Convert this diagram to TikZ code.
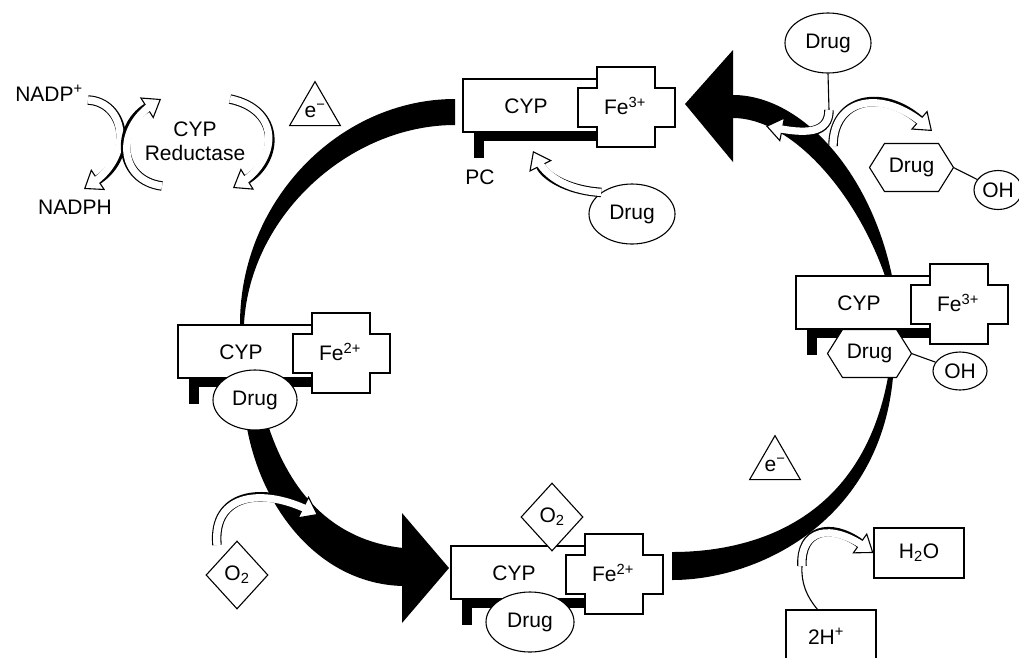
\documentclass[tikz,border=0pt]{standalone}
\usepackage{fontspec}
\setmainfont{Liberation Sans}
\usetikzlibrary{arrows.meta,shapes.geometric}
\newcommand\hollowarrow[1]{%
  \draw[line width=9.5pt,-{Triangle[fill=white,width=25pt,length=17pt,line width=1.1pt]}] #1;
  \draw[line width=7.3pt,white,shorten >=8pt] #1;}
\tikzset{
  cyp/.pic={
    \fill (11,53) rectangle (134,62);
    \fill (11,53) rectangle (21,79);
    \draw[fill=white] (0,0) rectangle (134,53);
    \draw[fill=white] (134,-12) -- (192,-12) -- (192,9) -- (212,9) -- (212,48) -- (192,48)
      -- (192,68) -- (134,68) -- (134,48) -- (115,48) -- (115,9) -- (134,9) -- cycle;
    \node (-cyp) at (63,27) {CYP};
    \node (-fe) at (162,27) {#1};
  },
  hexa/.pic={
    \draw[fill=white] (-42,0) -- (-27,-24) -- (27,-24) -- (42,0) -- (27,24) -- (-27,24) -- cycle;
    \coordinate (-e) at (42,0);
    \node (-t) at (0,0) {Drug};
  }
}
\begin{document}
\begin{tikzpicture}[x=1pt,y=-1pt,line width=1.1pt,font=\fontsize{21}{24}\selectfont,
  every node/.style={inner sep=0pt},
  drug/.style={ellipse,draw,fill=white,minimum width=86pt,minimum height=60pt},
  oh/.style={ellipse,draw,fill=white,minimum width=48pt,minimum height=39pt},
  oxy/.style={diamond,draw,fill=white,minimum width=62pt,minimum height=68pt},
  elec/.style={regular polygon,regular polygon sides=3,draw,fill=white,minimum size=56pt},
  wbox/.style={draw,fill=white,minimum width=90pt,minimum height=50pt}]
\useasboundingbox (0,0) rectangle (1019,657);

% ---- black cycle bands and arrowheads
\fill (240,324) .. controls (240,200) and (340,99) .. (455,99) -- (455,125)
  .. controls (350,125) and (250,215) .. (244,324) -- cycle;
\fill (733,95) .. controls (800,95) and (870,170) .. (892,276) -- (885,276)
  .. controls (855,190) and (790,118) .. (733,118) -- cycle;
\fill (685,104) -- (733,50) -- (733,162) -- cycle;
\fill (247,428) .. controls (262,510) and (320,584) .. (403,586) -- (403,548)
  .. controls (330,540) and (290,490) .. (269,428) -- cycle;
\fill (402,513) -- (449,568) -- (402,623) -- cycle;
\fill (672,552) .. controls (740,552) and (860,530) .. (888,377) -- (893,377)
  .. controls (880,520) and (760,580) .. (672,580) -- cycle;

% ---- enzyme complexes
\pic (top) at (463,79) {cyp={Fe\textsuperscript{3+}}};
\pic (left) at (178,325) {cyp={Fe\textsuperscript{2+}}};
\pic (right) at (796,276) {cyp={Fe\textsuperscript{3+}}};
\pic (bot) at (451,546) {cyp={Fe\textsuperscript{2+}}};

\node (pc) at (480,177) {PC};

% ---- drugs
\node[drug] (drugTop) at (632,214) {Drug};
\node[drug,minimum width=84pt] (drugLeft) at (255,400) {Drug};
\node[drug,minimum width=88pt] (drugBot) at (530,622) {Drug};
\node[drug] (drugTR) at (828,43) {Drug};
\pic (hexTR) at (911.5,167.5) {hexa};
\pic (hexR) at (869.5,353.5) {hexa};
\node[oh] (ohTR) at (998,190) {OH};
\node[oh,minimum width=54pt,minimum height=38pt] (ohR) at (960,371) {OH};
\draw (hexTR-e) -- (ohTR);
\draw (hexR-e) -- (ohR);

% ---- oxygen, electrons, water
\node[oxy] (o2bot) at (552,517) {O\textsubscript{2}};
\node[oxy] (o2left) at (237,575) {O\textsubscript{2}};
\node[elec] (e1) at (315,111) {e\textsuperscript{−}};
\node[elec] (e2) at (775,465) {e\textsuperscript{−}};
\node[wbox] (h2o) at (919,553) {H\textsubscript{2}O};
\node (hplus) at (826,636) {2H\textsuperscript{+}};
\draw (786,660) |- (876,610) -- (876,660);

% ---- NADP / reductase
\node (nadpp) at (49,93) {NADP\textsuperscript{+}};
\node (nadph) at (75,207) {NADPH};
\node[align=center] (red) at (195,141) {CYP\\Reductase};

% ---- hollow arrows
\coordinate (a1s) at (88,100);
\coordinate (a1e) at (84,189);
\hollowarrow{(a1s) .. controls (125,102) and (135,155) .. (a1e)}
\coordinate (a2s) at (162,186);
\coordinate (a2e) at (161,99);
\hollowarrow{(a2s) .. controls (118,180) and (115,128) .. (a2e)}
\coordinate (a3s) at (230,99);
\coordinate (a3e) at (233,188);
\hollowarrow{(a3s) .. controls (282,110) and (278,160) .. (a3e)}

\coordinate (tipTop) at (533,151);
\hollowarrow{(drugTop.north west) .. controls (565,190) and (545,175) .. (tipTop)}

\coordinate (split) at (829,110);
\coordinate (tipL) at (766,126);
\draw (drugTR.south) -- (split);
\hollowarrow{(split) .. controls (829,134) and (805,134) .. (tipL)}
\coordinate (bandR) at (833,146);
\coordinate (tipR) at (932,131);
\hollowarrow{(bandR) .. controls (833,98) and (882,88) .. (tipR)}

\coordinate (o2s) at (217,545);
\coordinate (tipO) at (318,515);
\hollowarrow{(o2s) .. controls (212,492) and (265,488) .. (tipO)}

\coordinate (hs) at (818,610);
\coordinate (hm) at (802,566);
\draw (hs) .. controls (806,596) and (801,582) .. (hm);
\hollowarrow{(hm) .. controls (800,530) and (830,522) .. (h2o.west)}
\end{tikzpicture}
\end{document}
